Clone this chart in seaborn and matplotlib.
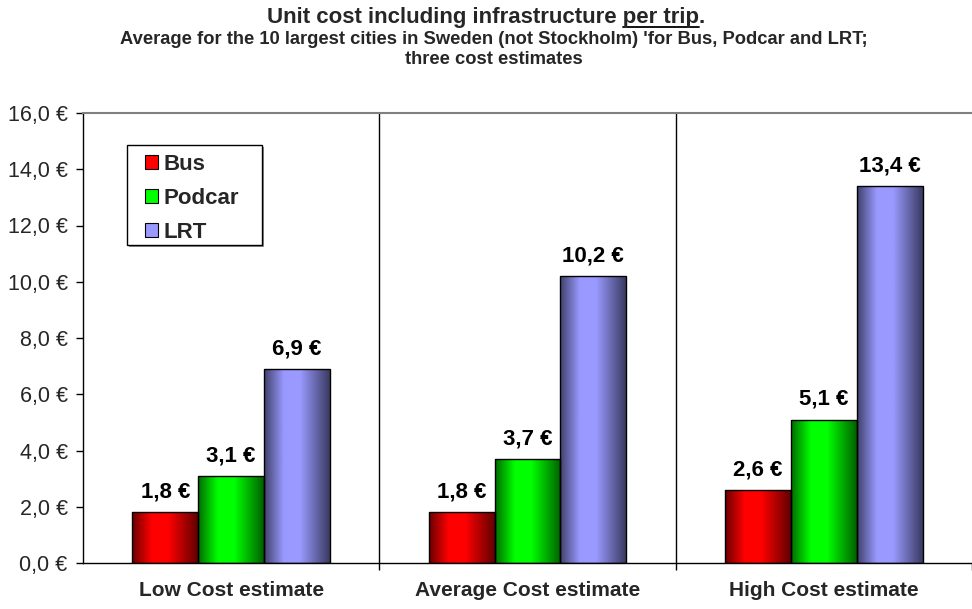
import numpy as np
import pandas as pd
import matplotlib
matplotlib.use("Agg")
import matplotlib.pyplot as plt
from matplotlib.patches import Patch, Rectangle
from matplotlib.colors import to_rgb
import seaborn as sns

# ---- data ----
estimates = ["Low Cost estimate", "Average Cost estimate", "High Cost estimate"]
modes = ["Bus", "Podcar", "LRT"]
bus_cost = [1.8, 1.8, 2.6]
podcar_cost = [3.1, 3.7, 5.1]
lrt_cost = [6.9, 10.2, 13.4]
y_ticks = [0, 2, 4, 6, 8, 10, 12, 14, 16]

mode_colors = {"Bus": "#FF0000", "Podcar": "#00FF00", "LRT": "#9999FF"}

df = pd.DataFrame({
    "estimate": estimates * 3,
    "mode": ["Bus"] * 3 + ["Podcar"] * 3 + ["LRT"] * 3,
    "cost": bus_cost + podcar_cost + lrt_cost,
})

sns.set_theme(style="white")
plt.rcParams["font.family"] = ["Liberation Sans", "DejaVu Sans"]

W, H = 972, 609
fig = plt.figure(figsize=(W / 100, H / 100), dpi=100)
ax = fig.add_axes([83 / W, 46 / H, 1 - 83 / W, 450 / H])

sns.barplot(data=df, x="estimate", y="cost", hue="mode", order=estimates,
            hue_order=modes, palette=mode_colors, width=2 / 3, gap=0,
            edgecolor="black", linewidth=1.0, legend=False, ax=ax,
            errorbar=None, saturation=1)

x_right = (W - 83) / 300 - 0.5


def shade_profile(n=200):
    t = np.linspace(0, 1, n)
    return np.interp(t, [0.0, 0.3, 0.55, 1.0], [0.42, 1.0, 1.0, 0.38])


# cylinder-style horizontal shading inside every bar
prof = shade_profile()
bar_patches = [p for p in ax.patches if p.get_height() > 0]
for p in bar_patches:
    base = np.array(to_rgb(p.get_facecolor()))
    img = (prof[:, None] * base[None, :])[None, :, :]
    x0, y0 = p.get_x(), p.get_y()
    w, h = p.get_width(), p.get_height()
    im = ax.imshow(img, extent=[x0, x0 + w, y0, y0 + h], aspect="auto",
                   interpolation="bilinear", zorder=p.get_zorder() - 0.01)
    im.set_clip_path(p)
    p.set_facecolor("none")
    p.set_zorder(p.get_zorder() + 0.1)
    ax.annotate(f"{h:.1f} €".replace(".", ","), (x0 + w / 2, y0 + h),
                xytext=(0, 7), textcoords="offset points", ha="center",
                va="bottom", fontsize=16, fontweight="bold", color="black")

ax.set_ylim(0, 16)
ax.set_xlim(-0.5, x_right)

# separators between estimate groups
for xs in [0.5, 1.5]:
    ax.axvline(xs, color="black", linewidth=1.0, zorder=0.5)

# axes styling
ax.set_xlabel("")
ax.set_ylabel("")
ax.set_yticks(y_ticks)
ax.set_yticklabels([f"{v:.1f} €".replace(".", ",") for v in y_ticks],
                   fontsize=15.5)
ax.set_xticks(range(len(estimates)))
ax.set_xticklabels(estimates, fontsize=15, fontweight="bold")
ax.set_xticks([0.5, 1.5, 2.5], minor=True)
ax.tick_params(axis="x", which="major", length=0, pad=13)
ax.tick_params(axis="x", which="minor", length=5, width=1, color="black",
               direction="out", bottom=True)
ax.tick_params(axis="y", which="major", length=5, width=1, color="black",
               direction="out", left=True, pad=6)
for side in ["left", "bottom"]:
    ax.spines[side].set_color("black")
    ax.spines[side].set_linewidth(1.0)
ax.spines["top"].set_color("#808080")
ax.spines["top"].set_linewidth(1.5)
ax.spines["right"].set_visible(False)
ax.grid(False)

# legend frame with a drop shadow
lx0, lx1, ly0, ly1 = 127, 262, 145, 245
fig.add_artist(Rectangle(((lx0 + 2) / W, 1 - (ly1 + 2) / H),
                         (lx1 - lx0) / W, (ly1 - ly0) / H,
                         transform=fig.transFigure, facecolor="#909090",
                         edgecolor="none", zorder=3))
fig.add_artist(Rectangle((lx0 / W, 1 - ly1 / H), (lx1 - lx0) / W,
                         (ly1 - ly0) / H, transform=fig.transFigure,
                         facecolor="white", edgecolor="black", linewidth=1.0,
                         zorder=3.5))

handles = [Patch(facecolor=mode_colors[m], edgecolor="black", linewidth=0.8,
                 label=m) for m in modes]
leg = fig.legend(handles=handles, loc="upper left",
                 bbox_to_anchor=(145 / W, 1 - 154 / H),
                 frameon=False, prop={"weight": "bold", "size": 16},
                 handlelength=0.6, handleheight=0.6, handletextpad=0.25,
                 labelspacing=0.58, borderpad=0, borderaxespad=0)
leg.set_zorder(4)

# titles
title_main = "Unit cost including infrastructure per trip."
title_size = 16
t_main = fig.text(0.5, 1 - 18 / H, title_main, ha="center", va="center",
                  fontsize=title_size, fontweight="bold")
fig.text(0.508, 1 - 40 / H,
         "Average for the 10 largest cities in Sweden (not Stockholm) 'for Bus, Podcar and LRT;",
         ha="center", va="center", fontsize=13.2, fontweight="bold")
fig.text(0.508, 1 - 59 / H, "three cost estimates", ha="center",
         va="center", fontsize=13.2, fontweight="bold")

# underline "per trip"
fig.canvas.draw()
renderer = fig.canvas.get_renderer()
full_bb = t_main.get_window_extent(renderer)


def text_width(s):
    tmp = fig.text(0, 0, s, fontsize=title_size, fontweight="bold")
    w = tmp.get_window_extent(renderer).width
    tmp.remove()
    return w


w_upto = text_width("Unit cost including infrastructure per trip")
w_under = text_width("per trip")
x_end = full_bb.x0 + w_upto
x_start = x_end - w_under
y_line = full_bb.y0 + 1.5
fig.add_artist(plt.Line2D([x_start / W, x_end / W], [y_line / H, y_line / H],
                          color="black", linewidth=1.3,
                          transform=fig.transFigure))

fig.savefig("out.png", dpi=100)
